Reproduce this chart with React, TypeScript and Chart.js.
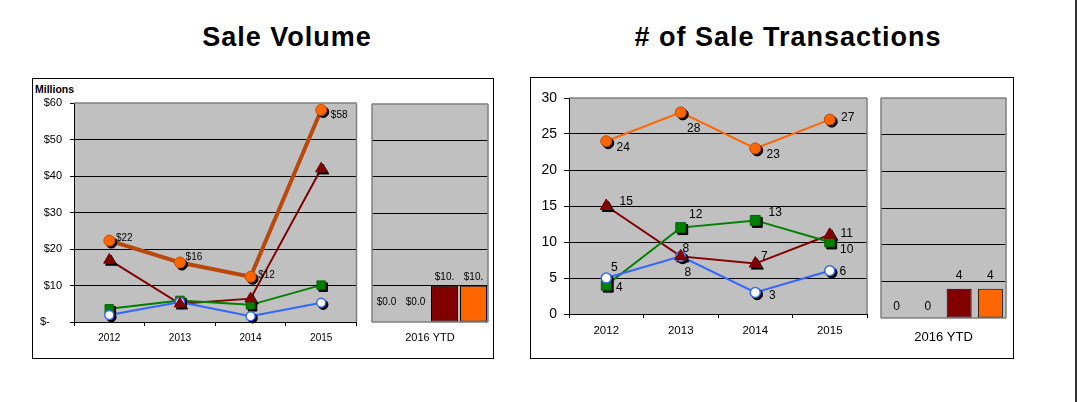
import React, { useEffect, useRef } from 'react';
import { Chart, registerables } from 'chart.js';

Chart.register(...registerables);
Chart.defaults.font.family = '"Liberation Sans", Arial, Helvetica, sans-serif';
Chart.defaults.color = '#000';

// ---------- data ----------
const YEARS = ['2012', '2013', '2014', '2015'];
const YTD_CATEGORY = ['2016 YTD'];

// Sale volume, $ millions
const VOLUME_BLUE = [1.9, 5.5, 1.6, 5.3];
const VOLUME_GREEN = [3.6, 5.9, 4.7, 10.1];
const VOLUME_RED = [17, 5, 6.4, 42];
const VOLUME_ORANGE = [22.3, 16.3, 12.4, 58.1];
const VOLUME_YTD = [0, 0, 10, 10];
const VOLUME_TICKS = [0, 10, 20, 30, 40, 50, 60];

// # of sale transactions
const TX_BLUE = [5, 8, 3, 6];
const TX_GREEN = [4, 12, 13, 10];
const TX_RED = [15, 8, 7, 11];
const TX_ORANGE = [24, 28, 23, 27];
const TX_YTD = [0, 0, 4, 4];
const TX_TICKS = [0, 5, 10, 15, 20, 25, 30];

// ---------- styles ----------
const BLUE = '#3366FF';
const GREEN = '#008000';
const RED = '#800000';
const ORANGE = '#FF6600';
const ORANGE_DARK_LINE = '#B8480C';
const PLOT_BG = '#C0C0C0';
const PLOT_EDGE = '#808080';
const BAR_COLORS = [BLUE, GREEN, RED, ORANGE];

type SeriesStyle = {
  line: string;
  lineWidth: number;
  fill: string;
  border: string;
  borderWidth: number;
  style: string;
  radius: number;
  pointOrder: number;
};

function seriesDatasets(data: number[], s: SeriesStyle) {
  return [
    {
      type: 'line',
      data,
      borderColor: s.line,
      borderWidth: s.lineWidth,
      pointRadius: 0,
      tension: 0,
      fill: false,
      order: 10,
    },
    {
      type: 'line',
      data,
      showLine: false,
      pointStyle: s.style,
      pointRadius: s.radius,
      pointBackgroundColor: '#000',
      pointBorderColor: '#000',
      pointBorderWidth: s.borderWidth,
      order: 8,
      isShadow: true,
    },
    {
      type: 'line',
      data,
      showLine: false,
      pointStyle: s.style,
      pointRadius: s.radius,
      pointBackgroundColor: s.fill,
      pointBorderColor: s.border,
      pointBorderWidth: s.borderWidth,
      order: s.pointOrder,
    },
  ];
}

// ---------- plugins ----------
function plotFrame(edges: string[]) {
  return {
    id: 'plotFrame',
    beforeDraw(chart: any) {
      const { ctx, chartArea: a } = chart;
      ctx.save();
      ctx.fillStyle = PLOT_BG;
      ctx.fillRect(a.left, a.top, a.right - a.left, a.bottom - a.top);
      ctx.restore();
    },
    beforeDatasetsDraw(chart: any) {
      const { ctx, chartArea: a } = chart;
      ctx.save();
      ctx.strokeStyle = PLOT_EDGE;
      ctx.lineWidth = 1.5;
      ctx.beginPath();
      if (edges.includes('top')) { ctx.moveTo(a.left, a.top); ctx.lineTo(a.right, a.top); }
      if (edges.includes('right')) { ctx.moveTo(a.right, a.top); ctx.lineTo(a.right, a.bottom); }
      if (edges.includes('bottom')) { ctx.moveTo(a.left, a.bottom); ctx.lineTo(a.right, a.bottom); }
      if (edges.includes('left')) { ctx.moveTo(a.left, a.top); ctx.lineTo(a.left, a.bottom); }
      ctx.stroke();
      ctx.restore();
    },
  };
}

const markerShadow = {
  id: 'markerShadow',
  beforeDatasetDraw(chart: any, args: any) {
    if (chart.data.datasets[args.index].isShadow) {
      chart.ctx.save();
      chart.ctx.translate(2, 2);
    }
  },
  afterDatasetDraw(chart: any, args: any) {
    if (chart.data.datasets[args.index].isShadow) chart.ctx.restore();
  },
};

type LabelItem = { datasetIndex: number; offsets: number[][] };
function pointLabels(items: LabelItem[], font: string, format: (v: number) => string) {
  return {
    id: 'pointLabels',
    afterDatasetsDraw(chart: any) {
      const ctx = chart.ctx;
      ctx.save();
      ctx.font = font;
      ctx.fillStyle = '#000';
      ctx.textAlign = 'center';
      ctx.textBaseline = 'middle';
      items.forEach((it) => {
        const meta = chart.getDatasetMeta(it.datasetIndex);
        const values = chart.data.datasets[it.datasetIndex].data;
        meta.data.forEach((el: any, i: number) => {
          const off = it.offsets[i];
          ctx.fillText(format(values[i]), el.x + off[0], el.y + off[1]);
        });
      });
      ctx.restore();
    },
  };
}

function barLabels(font: string, above: number, zeroAbove: number, format: (v: number) => string) {
  return {
    id: 'barLabels',
    afterDatasetsDraw(chart: any) {
      const ctx = chart.ctx;
      ctx.save();
      ctx.font = font;
      ctx.fillStyle = '#000';
      ctx.textAlign = 'center';
      ctx.textBaseline = 'middle';
      chart.data.datasets.forEach((ds: any, di: number) => {
        const meta = chart.getDatasetMeta(di);
        meta.data.forEach((el: any, i: number) => {
          const v = ds.data[i];
          const y = v === 0 ? el.base - zeroAbove : el.y - above;
          ctx.fillText(format(v), el.x, y);
        });
      });
      ctx.restore();
    },
  };
}

// ---------- chart builders ----------
function lineChartConfig(opts: {
  series: number[][];
  styles: SeriesStyle[];
  ticks: number[];
  tickFormat: (v: number) => string;
  yFont: number;
  yTickLen: number;
  yPad: number;
  yWidth: number;
  xFont: number;
  xPad: number;
  xHeight: number;
  padding: any;
  labels: any;
}) {
  const max = opts.ticks[opts.ticks.length - 1];
  const datasets: any[] = [];
  opts.series.forEach((d, i) => datasets.push(...seriesDatasets(d, opts.styles[i])));
  return {
    type: 'line',
    data: { labels: YEARS, datasets },
    plugins: [plotFrame(['top', 'right']), markerShadow, opts.labels],
    options: {
      responsive: false,
      animation: false,
      events: [],
      layout: { padding: opts.padding },
      plugins: { legend: { display: false }, tooltip: { enabled: false } },
      scales: {
        x: {
          type: 'category',
          offset: true,
          grid: { offset: true, drawOnChartArea: false, drawTicks: true, tickLength: 4, tickColor: '#000' },
          border: { display: true, color: '#000', width: 1 },
          ticks: { color: '#000', font: { size: opts.xFont }, padding: opts.xPad, maxRotation: 0, autoSkip: false },
          afterFit: (s: any) => { s.height = opts.xHeight; },
        },
        y: {
          min: 0,
          max,
          afterBuildTicks: (s: any) => { s.ticks = opts.ticks.map((v) => ({ value: v })); },
          grid: {
            color: (c: any) => (c.tick && c.tick.value > 0 && c.tick.value < max ? '#000' : 'rgba(0,0,0,0)'),
            tickColor: '#000',
            tickLength: opts.yTickLen,
            drawTicks: true,
          },
          border: { display: true, color: '#000', width: 1 },
          ticks: { color: '#000', font: { size: opts.yFont }, padding: opts.yPad, callback: (v: any) => opts.tickFormat(v) },
          afterFit: (s: any) => { s.width = opts.yWidth; },
        },
      },
    },
  };
}

function barChartConfig(opts: {
  values: number[];
  ticks: number[];
  barPct: number;
  xFont: number;
  xPad: number;
  xHeight: number;
  padding: any;
  labels: any;
}) {
  const max = opts.ticks[opts.ticks.length - 1];
  return {
    type: 'bar',
    data: {
      labels: YTD_CATEGORY,
      datasets: opts.values.map((v, i) => ({
        data: [v],
        backgroundColor: BAR_COLORS[i],
        borderColor: '#000',
        borderWidth: v === 0 ? 0 : 1,
        borderSkipped: false,
        barPercentage: opts.barPct,
        categoryPercentage: 1,
      })),
    },
    plugins: [plotFrame(['top', 'right', 'bottom', 'left']), opts.labels],
    options: {
      responsive: false,
      animation: false,
      events: [],
      layout: { padding: opts.padding },
      plugins: { legend: { display: false }, tooltip: { enabled: false } },
      scales: {
        x: {
          grid: { display: false, drawTicks: false },
          border: { display: false },
          ticks: { color: '#000', font: { size: opts.xFont }, padding: opts.xPad, maxRotation: 0 },
          afterFit: (s: any) => { s.height = opts.xHeight; },
        },
        y: {
          min: 0,
          max,
          afterBuildTicks: (s: any) => { s.ticks = opts.ticks.map((v) => ({ value: v })); },
          grid: {
            color: (c: any) => (c.tick && c.tick.value > 0 && c.tick.value < max ? '#000' : 'rgba(0,0,0,0)'),
            drawTicks: false,
          },
          border: { display: false },
          ticks: { display: false },
          afterFit: (s: any) => { s.width = 0; },
        },
      },
    },
  };
}

const LEFT_STYLES: SeriesStyle[] = [
  { line: BLUE, lineWidth: 2, fill: '#FFFFFF', border: BLUE, borderWidth: 1.5, style: 'circle', radius: 4.5, pointOrder: 1 },
  { line: GREEN, lineWidth: 2, fill: GREEN, border: '#006400', borderWidth: 1, style: 'rect', radius: 6, pointOrder: 2 },
  { line: RED, lineWidth: 2, fill: RED, border: RED, borderWidth: 1, style: 'triangle', radius: 6.5, pointOrder: 0 },
  { line: ORANGE_DARK_LINE, lineWidth: 4, fill: ORANGE, border: '#D05000', borderWidth: 1, style: 'circle', radius: 5.5, pointOrder: 3 },
];
const RIGHT_STYLES: SeriesStyle[] = [
  { line: BLUE, lineWidth: 2, fill: '#FFFFFF', border: BLUE, borderWidth: 1.5, style: 'circle', radius: 5, pointOrder: 1 },
  { line: GREEN, lineWidth: 2, fill: GREEN, border: '#006400', borderWidth: 1, style: 'rect', radius: 7, pointOrder: 2 },
  { line: RED, lineWidth: 2, fill: RED, border: RED, borderWidth: 1, style: 'triangle', radius: 7, pointOrder: 0 },
  { line: ORANGE, lineWidth: 2, fill: ORANGE, border: '#C04800', borderWidth: 1, style: 'circle', radius: 5.5, pointOrder: 3 },
];

// label placement around each point (dx, dy)
const LEFT_LABEL_OFFSETS = [[15, -2], [14, -5], [16, -1], [18, 5]];
const RIGHT_LABEL_OFFSETS = [
  [[8, -10], [7, 16], [17, 3], [13, 1]],
  [[13, 2], [15, -13], [20, -8], [17, 8]],
  [[20, -4], [5, -8], [9, -7], [17, -1]],
  [[17, 6], [13, 16], [18, 6], [18, -2]],
];

function ChartCanvas({ left, top, width, height, build }: any) {
  const ref = useRef<HTMLCanvasElement>(null);
  useEffect(() => {
    const chart = new Chart(ref.current as HTMLCanvasElement, build());
    return () => chart.destroy();
  }, []);
  return (
    <canvas
      ref={ref}
      width={width}
      height={height}
      style={{ position: 'absolute', left, top, width, height }}
    />
  );
}

const titleStyle: any = {
  position: 'absolute',
  top: 22,
  width: 500,
  textAlign: 'center',
  fontSize: 27,
  lineHeight: '31px',
  fontWeight: 'bold',
  letterSpacing: '1px',
  color: '#000',
  whiteSpace: 'nowrap',
};

export default function App() {
  return (
    <div
      style={{
        position: 'absolute',
        left: 0,
        top: 0,
        width: 1081,
        height: 402,
        background: '#fff',
        overflow: 'hidden',
        fontFamily: '"Liberation Sans", Arial, Helvetica, sans-serif',
      }}
    >
      <div style={{ ...titleStyle, left: 287 - 250 }}>Sale Volume</div>
      <div style={{ ...titleStyle, left: 788 - 250 }}># of Sale Transactions</div>

      <div style={{ position: 'absolute', left: 32, top: 78, width: 462, height: 281, border: '1px solid #000', boxSizing: 'border-box' }} />
      <div style={{ position: 'absolute', left: 530, top: 77, width: 484, height: 282, border: '1px solid #000', boxSizing: 'border-box' }} />
      <div style={{ position: 'absolute', left: 1075, top: 0, width: 2, height: 402, background: '#333' }} />

      <div style={{ position: 'absolute', left: 35, top: 83, fontSize: 10.5, lineHeight: '12px', fontWeight: 'bold', color: '#000' }}>Millions</div>

      <ChartCanvas
        left={34}
        top={80}
        width={330}
        height={276}
        build={() =>
          lineChartConfig({
            series: [VOLUME_BLUE, VOLUME_GREEN, VOLUME_RED, VOLUME_ORANGE],
            styles: LEFT_STYLES,
            ticks: VOLUME_TICKS,
            tickFormat: (v) => (v === 0 ? '$-    ' : '$' + v),
            yFont: 11,
            yTickLen: 4,
            yPad: 8,
            yWidth: 40,
            xFont: 10,
            xPad: 6,
            xHeight: 34,
            padding: { top: 23, right: 2, left: 0, bottom: 0 },
            labels: pointLabels([{ datasetIndex: 11, offsets: LEFT_LABEL_OFFSETS }], '10px "Liberation Sans", Arial, sans-serif', (v) => '$' + Math.round(v)),
          })
        }
      />
      <ChartCanvas
        left={366}
        top={80}
        width={126}
        height={276}
        build={() =>
          barChartConfig({
            values: VOLUME_YTD,
            ticks: VOLUME_TICKS,
            barPct: 0.93,
            xFont: 11,
            xPad: 9,
            xHeight: 34,
            padding: { top: 24, right: 4, left: 6, bottom: 0 },
            labels: barLabels('10px "Liberation Sans", Arial, sans-serif', 8, 20, (v) => ('$' + v.toFixed(1)).slice(0, 4)),
          })
        }
      />
      <ChartCanvas
        left={532}
        top={79}
        width={343}
        height={277}
        build={() =>
          lineChartConfig({
            series: [TX_BLUE, TX_GREEN, TX_RED, TX_ORANGE],
            styles: RIGHT_STYLES,
            ticks: TX_TICKS,
            tickFormat: (v) => String(v),
            yFont: 14,
            yTickLen: 5,
            yPad: 7,
            yWidth: 37,
            xFont: 11.5,
            xPad: 6,
            xHeight: 42,
            padding: { top: 19, right: 2, left: 0, bottom: 0 },
            labels: pointLabels(
              RIGHT_LABEL_OFFSETS.map((offsets, k) => ({ datasetIndex: 3 * k + 2, offsets })),
              '12px "Liberation Sans", Arial, sans-serif',
              (v) => String(v)
            ),
          })
        }
      />
      <ChartCanvas
        left={877}
        top={79}
        width={134}
        height={277}
        build={() =>
          barChartConfig({
            values: TX_YTD,
            ticks: TX_TICKS,
            barPct: 0.8,
            xFont: 13,
            xPad: 12,
            xHeight: 38,
            padding: { top: 19, right: 5, left: 4, bottom: 0 },
            labels: barLabels('12px "Liberation Sans", Arial, sans-serif', 13, 11, (v) => String(v)),
          })
        }
      />
    </div>
  );
}
